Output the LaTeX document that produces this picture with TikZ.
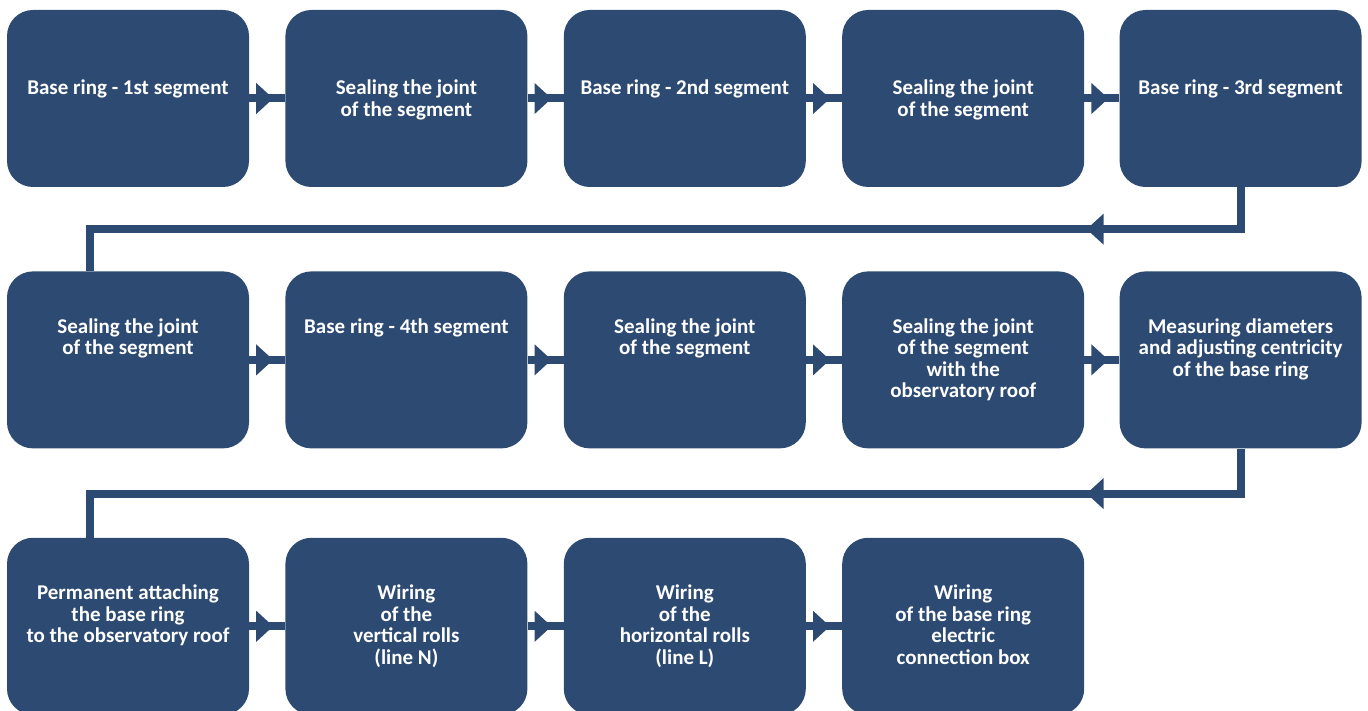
\documentclass[tikz,border=0pt]{standalone}
\usepackage{fontspec}
\setmainfont{Carlito}
\usetikzlibrary{positioning}
\usetikzlibrary{arrows.meta}
\usetikzlibrary{decorations.markings}
\definecolor{stepblue}{RGB}{44,74,114}

\begin{document}
\begin{tikzpicture}[x=1pt,y=1pt,
    stepbox/.style={fill=stepblue,rounded corners=26pt,minimum width=242pt,
      minimum height=177pt,inner sep=0pt},
    steptxt/.style={text=white,font=\bfseries\fontsize{21}{21.5}\selectfont,
      align=center,anchor=north,inner sep=0pt},
    flow/.style={draw=stepblue,line width=8pt},
    tipat/.style={postaction={decorate},decoration={markings,
      mark=at position #1 with {\arrow[stepblue]{Triangle[length=17pt,width=30pt]}}}}]
  \useasboundingbox (0,0) rectangle (1368,711);

  % first row
  \node (b1) [stepbox] at (128,612.5) {};
  \node (b2) [stepbox,right=36pt of b1] {};
  \node (b3) [stepbox,right=36pt of b2] {};
  \node (b4) [stepbox,right=36pt of b3] {};
  \node (b5) [stepbox,right=35pt of b4] {};
  % second row
  \node (b6) [stepbox,below=84pt of b1] {};
  \node (b7) [stepbox,right=36pt of b6] {};
  \node (b8) [stepbox,right=36pt of b7] {};
  \node (b9) [stepbox,right=36pt of b8] {};
  \node (b10) [stepbox,right=35pt of b9] {};
  % third row
  \node (b11) [stepbox,below=89pt of b6] {};
  \node (b12) [stepbox,right=36pt of b11] {};
  \node (b13) [stepbox,right=36pt of b12] {};
  \node (b14) [stepbox,right=36pt of b13] {};

  \node (t1) [steptxt] at ([yshift=-70pt]b1.north) {Base ring - 1st segment};
  \node (t2) [steptxt] at ([yshift=-70pt]b2.north) {Sealing the joint\\of the segment};
  \node (t3) [steptxt] at ([yshift=-70pt]b3.north) {Base ring - 2nd segment};
  \node (t4) [steptxt] at ([yshift=-70pt]b4.north) {Sealing the joint\\of the segment};
  \node (t5) [steptxt] at ([yshift=-70pt]b5.north) {Base ring - 3rd segment};
  \node (t6) [steptxt] at ([yshift=-47pt]b6.north) {Sealing the joint\\of the segment};
  \node (t7) [steptxt] at ([yshift=-47pt]b7.north) {Base ring - 4th segment};
  \node (t8) [steptxt] at ([yshift=-47pt]b8.north) {Sealing the joint\\of the segment};
  \node (t9) [steptxt] at ([yshift=-47pt]b9.north) {Sealing the joint\\of the segment\\with the\\observatory roof};
  \node (t10) [steptxt] at ([yshift=-47pt]b10.north) {Measuring diameters\\and adjusting centricity\\of the base ring};
  \node (t11) [steptxt] at ([yshift=-47pt]b11.north) {Permanent attaching\\the base ring\\to the observatory roof};
  \node (t12) [steptxt] at ([yshift=-47pt]b12.north) {Wiring\\of the\\vertical rolls\\(line N)};
  \node (t13) [steptxt] at ([yshift=-47pt]b13.north) {Wiring\\of the\\horizontal rolls\\(line L)};
  \node (t14) [steptxt] at ([yshift=-47pt]b14.north) {Wiring\\of the base ring\\electric\\connection box};

  % arrows within rows
  \draw[flow,tipat=24pt] (b1.east) -- (b2.west);
  \draw[flow,tipat=24pt] (b2.east) -- (b3.west);
  \draw[flow,tipat=24pt] (b3.east) -- (b4.west);
  \draw[flow,tipat=24pt] (b4.east) -- (b5.west);
  \draw[flow,tipat=24pt] (b6.east) -- (b7.west);
  \draw[flow,tipat=24pt] (b7.east) -- (b8.west);
  \draw[flow,tipat=24pt] (b8.east) -- (b9.west);
  \draw[flow,tipat=24pt] (b9.east) -- (b10.west);
  \draw[flow,tipat=24pt] (b11.east) -- (b12.west);
  \draw[flow,tipat=24pt] (b12.east) -- (b13.west);
  \draw[flow,tipat=24pt] (b13.east) -- (b14.west);

  % arrows between rows
  \draw[flow,tipat=196pt] (b5.south) -- ++(0,-42) -| ([xshift=-38pt]b6.north);
  \draw[flow,tipat=199pt] (b10.south) -- ++(0,-45) -| ([xshift=-38pt]b11.north);
\end{tikzpicture}
\end{document}
